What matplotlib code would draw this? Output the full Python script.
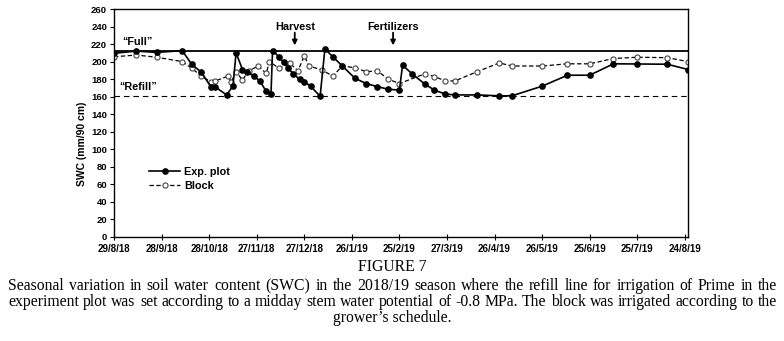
import matplotlib
matplotlib.use('Agg')
import matplotlib.pyplot as plt
import pandas as pd

# ---------------- data ----------------
exp_dates = ['2018-08-29', '2018-09-12', '2018-09-25', '2018-10-11', '2018-10-17',
             '2018-10-23', '2018-10-29', '2018-11-01', '2018-11-08', '2018-11-12',
             '2018-11-14', '2018-11-18', '2018-11-21', '2018-11-25', '2018-11-29',
             '2018-12-03', '2018-12-06', '2018-12-07', '2018-12-11', '2018-12-14',
             '2018-12-17', '2018-12-20', '2018-12-24', '2018-12-27', '2018-12-31',
             '2019-01-06', '2019-01-09', '2019-01-14', '2019-01-20', '2019-01-28',
             '2019-02-04', '2019-02-11', '2019-02-18', '2019-02-25', '2019-02-27',
             '2019-03-05', '2019-03-13', '2019-03-19', '2019-03-26', '2019-04-01',
             '2019-04-15', '2019-04-29', '2019-05-07', '2019-05-26', '2019-06-11',
             '2019-06-25', '2019-07-10', '2019-07-25', '2019-08-13', '2019-08-26']
exp_swc = [209.5, 212, 210.5, 212.5, 197,
           188, 171.5, 171, 162, 172,
           210, 191, 188.5, 183.5, 178,
           166, 163, 212.5, 205.5, 199,
           192.5, 186, 180, 177, 172,
           160.5, 214.5, 205.5, 195, 181,
           175, 171.5, 168.5, 167.5, 196,
           186, 174.5, 167.5, 163, 162,
           162, 161, 161, 172, 184.5,
           184.5, 197.5, 197.3, 197, 191]

block_dates = ['2018-08-29', '2018-09-12', '2018-09-25', '2018-10-11', '2018-10-17',
               '2018-10-23', '2018-10-29', '2018-11-01', '2018-11-09', '2018-11-11',
               '2018-11-14', '2018-11-18', '2018-11-22', '2018-11-28', '2018-12-03',
               '2018-12-05', '2018-12-11', '2018-12-18', '2018-12-23', '2018-12-27',
               '2018-12-30', '2019-01-07', '2019-01-14', '2019-01-20', '2019-01-28',
               '2019-02-04', '2019-02-11', '2019-02-18', '2019-02-25', '2019-03-13',
               '2019-03-19', '2019-03-26', '2019-04-01', '2019-04-15', '2019-04-29',
               '2019-05-07', '2019-05-26', '2019-06-11', '2019-06-25', '2019-07-10',
               '2019-07-25', '2019-08-13', '2019-08-26']
block_swc = [205.5, 207.5, 205, 200, 192.5,
             183.5, 177, 178, 183.5, 177,
             188.5, 179, 189.5, 195, 186.5,
             200, 192.5, 198, 189.5, 206.5,
             195, 190.5, 183.5, 195, 193,
             188.5, 189.5, 180, 175, 186,
             183, 178, 178, 188.5, 198.5,
             195, 195, 197.5, 197.5, 203.5,
             205, 204.5, 200]

full_level = 212
refill_level = 161

tick_dates = ['2018-08-29', '2018-09-28', '2018-10-28', '2018-11-27', '2018-12-27',
              '2019-01-26', '2019-02-25', '2019-03-27', '2019-04-26', '2019-05-26',
              '2019-06-25', '2019-07-25', '2019-08-24']
tick_labels = ['29/8/18', '28/9/18', '28/10/18', '27/11/18', '27/12/18', '26/1/19',
               '25/2/19', '27/3/19', '26/4/19', '26/5/19', '25/6/19', '25/7/19', '24/8/19']
y_ticks = list(range(0, 261, 20))

events = ['Harvest', 'Fertilizers']
event_dates = ['2018-12-21', '2019-02-21']

caption_title = 'FIGURE 7'
caption_lines = [
    'Seasonal variation in soil water content (SWC) in the 2018/19 season where the refill line for irrigation of Prime in the',
    'experiment plot was set according to a midday stem water potential of -0.8 MPa. The block was irrigated according to the',
    'grower\u2019s schedule.',
]

# ---------------- figure ----------------
W, H = 784, 341
fig = plt.figure(figsize=(W / 100, H / 100), dpi=100)
fig.patch.set_facecolor('white')
ax = fig.add_axes([114 / W, 1 - 237 / H, (688 - 114) / W, (237 - 9) / H])

sans = 'Liberation Sans'
ed = pd.to_datetime(exp_dates)
bd = pd.to_datetime(block_dates)

ax.axhline(full_level, color='black', lw=1.3, zorder=1)
ax.axhline(refill_level, color='black', lw=0.8, ls=(0, (5, 3.5)), zorder=1)

ax.plot(bd, block_swc, color='black', lw=0.9, ls=(0, (3.5, 2)),
        marker='o', markersize=3.7, markerfacecolor='white',
        markeredgecolor='#444444', markeredgewidth=0.8, label='Block', zorder=2)
ax.plot(ed, exp_swc, color='black', lw=1.2, ls='-',
        marker='o', markersize=3.8, markerfacecolor='black',
        markeredgecolor='black', label='Exp. plot', zorder=3)

ax.set_xlim(pd.Timestamp('2018-08-29'), pd.Timestamp('2018-08-29') + pd.Timedelta(days=362))
ax.set_ylim(0, 260)
ax.set_yticks(y_ticks)
ax.set_yticklabels([str(v) for v in y_ticks])
ax.set_xticks(pd.to_datetime(tick_dates))
ax.set_xticklabels(tick_labels)
for lab in ax.get_yticklabels():
    lab.set_fontfamily(sans)
    lab.set_fontweight('bold')
    lab.set_fontsize(6.8)
for lab in ax.get_xticklabels():
    lab.set_fontfamily(sans)
    lab.set_fontweight('bold')
    lab.set_fontsize(7.0)
ax.tick_params(axis='y', direction='out', length=3, width=0.8, pad=2)
ax.tick_params(axis='x', direction='inout', length=4, width=0.8, pad=3)
for s in ax.spines.values():
    s.set_linewidth(1.0)
    s.set_color('black')

ax.set_ylabel('SWC (mm/90 cm)', fontfamily=sans, fontweight='bold', fontsize=7.5)
ax.yaxis.set_label_coords(-0.047, 0.41)

ax.text(pd.Timestamp('2018-09-03'), 222, '\u201cFull\u201d', fontfamily=sans,
        fontweight='bold', fontsize=7.8, ha='left', va='center')
ax.text(pd.Timestamp('2018-09-01'), 170.5, '\u201cRefill\u201d', fontfamily=sans,
        fontweight='bold', fontsize=7.8, ha='left', va='center')

for name, d in zip(events, event_dates):
    t = pd.Timestamp(d)
    ax.text(t, 240, name, fontfamily=sans, fontweight='bold', fontsize=7.8,
            ha='center', va='center')
    ax.annotate('', xy=(t, 218.5), xytext=(t, 233),
                arrowprops=dict(arrowstyle='-|>', color='black', lw=1.3,
                                mutation_scale=7, shrinkA=0, shrinkB=0))

handles, labels = ax.get_legend_handles_labels()
leg = ax.legend(handles[::-1], labels[::-1], loc='upper left',
                bbox_to_anchor=((149 - 114) / 574, (237 - 167) / 228),
                frameon=False, borderpad=0, borderaxespad=0,
                handlelength=2.9, handletextpad=0.35, labelspacing=0.35,
                prop={'family': sans, 'weight': 'bold', 'size': 7.8})

# ---------------- caption ----------------
serif = 'Liberation Serif'
cap_size = 11.3
fig.text(392 / W, 1 - 267 / H, caption_title, fontfamily=serif, fontsize=cap_size,
         ha='center', va='center')

renderer = fig.canvas.get_renderer()


def justified(line, ypix, x0, x1):
    words = line.split(' ')
    texts = [fig.text(0, 1 - ypix / H, w, fontfamily=serif, fontsize=cap_size,
                      ha='left', va='center') for w in words]
    widths = [t.get_window_extent(renderer).width for t in texts]
    gap = (x1 - x0 - sum(widths)) / (len(words) - 1)
    x = x0
    for t, w in zip(texts, widths):
        t.set_x(x / W)
        x += w + gap


justified(caption_lines[0], 286, 8, 777)
justified(caption_lines[1], 302, 8, 777)
fig.text(392 / W, 1 - 318 / H, caption_lines[2], fontfamily=serif, fontsize=cap_size,
         ha='center', va='center')

fig.savefig('out.png', dpi=100)
